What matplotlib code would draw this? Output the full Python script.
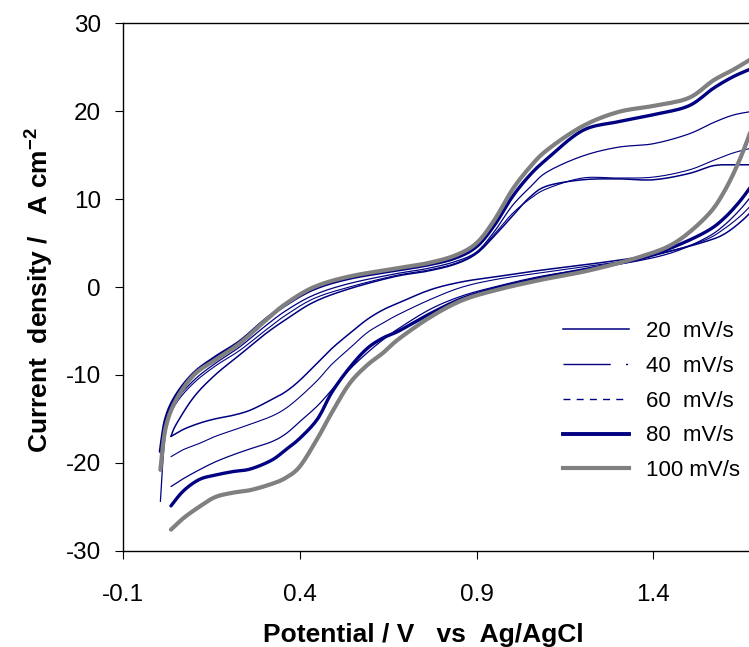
import matplotlib
matplotlib.use('Agg')
import matplotlib.pyplot as plt
import numpy as np
from matplotlib.lines import Line2D

plt.rcParams['font.family'] = ['Liberation Sans', 'DejaVu Sans']
plt.rcParams['mathtext.fontset'] = 'custom'
plt.rcParams['mathtext.rm'] = 'Liberation Sans:bold'
plt.rcParams['mathtext.bf'] = 'Liberation Sans:bold'
plt.rcParams['mathtext.default'] = 'rm'

# ---------------- data ----------------
scan_rates = ["20  mV/s", "40  mV/s", "60  mV/s", "80  mV/s", "100 mV/s"]

# anodic (upper) branches
v_up = [0.005, 0.02, 0.05, 0.10, 0.16, 0.23, 0.30, 0.36, 0.44, 0.54, 0.67, 0.76, 0.84,
        0.90, 0.95, 1.00, 1.05, 1.10, 1.20, 1.30, 1.40, 1.50, 1.57, 1.63, 1.70]
v_up_20 = [0.035, 0.05, 0.10, 0.16, 0.23, 0.30, 0.36, 0.44, 0.54, 0.67, 0.76, 0.84,
           0.90, 0.95, 1.00, 1.05, 1.10, 1.20, 1.30, 1.40, 1.50, 1.57, 1.63, 1.70]
up_20 = [-17.0, -15.6, -12.5, -10.0, -7.7, -5.4, -3.7, -1.7, -0.2, 1.2, 1.8, 2.6,
         3.8, 5.8, 8.0, 10.2, 11.5, 12.2, 12.3, 12.2, 12.9, 13.8, 13.9, 13.9]
up_40 = [-19.0, -15.8, -13.2, -10.9, -9.0, -7.2, -5.0, -3.2, -1.3, 0.0, 1.3, 1.9, 2.7,
         3.9, 6.0, 8.3, 10.0, 11.2, 12.4, 12.4, 12.5, 13.3, 14.4, 15.3, 16.0]
up_60 = [-24.4, -16.5, -13.0, -10.6, -8.7, -6.8, -4.5, -2.7, -0.9, 0.4, 1.5, 2.1, 2.9,
         4.0, 6.3, 9.2, 11.3, 13.1, 14.9, 15.9, 16.3, 17.4, 18.7, 19.6, 20.1]
up_80 = [-18.7, -15.0, -12.3, -9.8, -8.0, -6.2, -3.8, -2.0, -0.2, 1.0, 1.9, 2.5, 3.3,
         4.6, 7.0, 10.2, 12.7, 14.6, 17.8, 18.8, 19.6, 20.6, 22.6, 24.0, 25.2]
up_100 = [-20.8, -16.0, -12.8, -10.0, -8.3, -6.4, -3.9, -1.9, 0.0, 1.2, 2.1, 2.7, 3.6,
          5.0, 7.6, 11.0, 13.6, 15.6, 18.3, 19.9, 20.6, 21.5, 23.5, 24.8, 26.5]

# cathodic (lower) branches
v_low = [0.035, 0.07, 0.115, 0.16, 0.21, 0.26, 0.32, 0.36, 0.40, 0.45, 0.49, 0.54, 0.59,
         0.635, 0.68, 0.77, 0.86, 0.96, 1.08, 1.22, 1.36, 1.46, 1.55, 1.60, 1.65, 1.70]
low_20 = [-17.0, -16.2, -15.5, -15.0, -14.6, -14.0, -12.8, -11.9, -10.6, -8.6, -7.0, -5.3,
          -3.7, -2.6, -1.8, -0.3, 0.6, 1.2, 1.9, 2.6, 3.4, 4.2, 5.2, 6.0, 7.5, 9.5]
low_40 = [-19.3, -18.5, -17.8, -17.0, -16.3, -15.6, -14.7, -13.8, -12.5, -10.6, -8.8, -7.0,
          -5.2, -4.1, -3.1, -1.4, 0.0, 0.9, 1.6, 2.4, 3.2, 4.2, 5.4, 6.6, 8.2, 10.3]
low_60 = [-22.7, -21.8, -20.8, -19.9, -19.1, -18.4, -17.6, -16.7, -15.3, -13.5, -11.7, -9.4,
          -7.5, -6.0, -4.7, -2.5, -1.0, 0.1, 1.2, 2.1, 3.0, 4.0, 5.6, 7.0, 9.0, 11.5]
low_80 = [-24.9, -23.2, -21.9, -21.4, -21.0, -20.7, -19.7, -18.5, -17.2, -15.0, -12.0, -9.2,
          -7.0, -5.8, -5.0, -3.0, -1.3, -0.1, 1.0, 2.1, 3.2, 4.6, 6.3, 7.8, 10.0, 12.8]
low_100 = [-27.6, -26.3, -25.0, -23.9, -23.4, -23.1, -22.4, -21.7, -20.4, -17.2, -14.3, -11.0,
           -8.9, -7.5, -5.9, -3.4, -1.5, -0.3, 0.8, 1.9, 3.4, 5.0, 8.0, 10.8, 15.0, 20.5]

x_ticks = [-0.1, 0.4, 0.9, 1.4]
x_ticklabels = ["-0.1", "0.4", "0.9", "1.4"]
y_ticks = [-30, -20, -10, 0, 10, 20, 30]
y_ticklabels = ["-30", "-20", "-10", "0", "10", "20", "30"]


def smooth(x, y, n=10):
    """Catmull-Rom rendering of the read points (drawing aid only)."""
    p = np.column_stack([x, y]).astype(float)
    p = np.vstack([p[0], p, p[-1]])
    out = []
    t = np.linspace(0, 1, n, endpoint=False)[:, None]
    for i in range(1, len(p) - 2):
        p0, p1, p2, p3 = p[i - 1], p[i], p[i + 1], p[i + 2]
        seg = 0.5 * ((2 * p1) + (-p0 + p2) * t + (2 * p0 - 5 * p1 + 4 * p2 - p3) * t ** 2
                     + (-p0 + 3 * p1 - 3 * p2 + p3) * t ** 3)
        out.append(seg)
    out.append(p[-2][None, :])
    out = np.vstack(out)
    return out[:, 0], out[:, 1]


navy = '#000080'
gray = '#808080'
styles = [
    dict(color=navy, lw=1.1),
    dict(color=navy, lw=0.8),
    dict(color=navy, lw=0.9),
    dict(color=navy, lw=2.4),
    dict(color=gray, lw=3.0),
]
series = [
    (v_up_20, up_20, v_low, low_20),
    (v_up, up_40, v_low, low_40),
    (v_up, up_60, v_low, low_60),
    (v_up, up_80, v_low, low_80),
    (v_up, up_100, v_low, low_100),
]

fig = plt.figure(figsize=(7.49, 6.47), dpi=100)
ax = fig.add_axes([0.1646, 0.1488, 0.8354, 0.8152])

for (vu, ju, vl, jl), st in zip(series, styles):
    xs, ys = smooth(vu, ju)
    ax.plot(xs, ys, solid_capstyle='round', **st)
    xs, ys = smooth(vl, jl)
    ax.plot(xs, ys, solid_capstyle='round', **st)

ax.set_xlim(-0.1, 1.671)
ax.set_ylim(-30, 30)
ax.set_xticks(x_ticks)
ax.set_xticklabels(x_ticklabels)
ax.set_yticks(y_ticks)
ax.set_yticklabels(y_ticklabels)
ax.spines['right'].set_visible(False)
for s in ['left', 'bottom', 'top']:
    ax.spines[s].set_linewidth(1.0)
    ax.spines[s].set_color('black')
ax.tick_params(direction='out', length=6, width=0.8, labelsize=17.5, colors='black')
ax.tick_params(axis='x', pad=18)
ax.tick_params(axis='y', pad=10)

ax.set_xlabel('Potential / V   vs  Ag/AgCl', fontsize=19, fontweight='bold')
ax.set_ylabel(r'Current  density /   A cm$^{-2}$', fontsize=19, fontweight='bold')
ax.xaxis.set_label_coords(0.479, -0.137)
ax.yaxis.set_label_coords(-0.107, 0.494)

handles = [
    Line2D([], [], color=navy, lw=1.1),
    Line2D([], [], color=navy, lw=1.0, linestyle=(0, (34, 11, 1.5, 20))),
    Line2D([], [], color=navy, lw=1.0, linestyle=(0, (5, 4.5))),
    Line2D([], [], color=navy, lw=2.8),
    Line2D([], [], color=gray, lw=3.0),
]
leg = ax.legend(handles, scan_rates, loc='center left', bbox_to_anchor=(0.7027, 0.2835),
                frameon=False, fontsize=16, handlelength=2.95, handletextpad=0.8,
                labelspacing=0.62, borderpad=0, borderaxespad=0)

fig.savefig('out.png', dpi=100)
